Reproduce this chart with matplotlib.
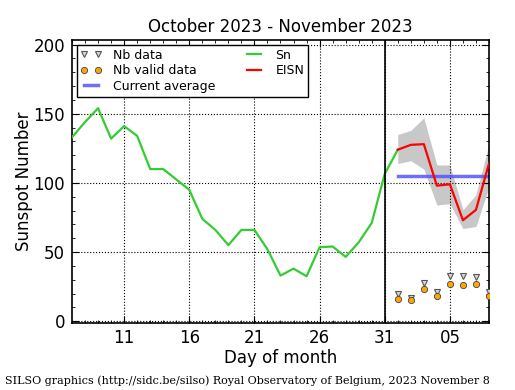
import matplotlib
matplotlib.use("Agg")
import matplotlib.pyplot as plt
from matplotlib.ticker import MultipleLocator, FixedLocator

# Days counted from October 1 (32 = Nov 1)
sn_days = list(range(7, 33))
sn_vals = [133, 144, 154, 132, 141, 134, 110, 110, 102.5, 95, 74, 66, 55, 66, 66,
           52, 33, 38, 32.5, 53.5, 54, 46.5, 57, 71, 106.5, 124]

eisn_days = [32, 33, 34, 35, 36, 37, 38, 39]
eisn_vals = [124, 127.5, 128, 98, 99, 73, 80.5, 114]
eisn_hi = [135, 138, 147, 113, 113, 80.5, 91.5, 128]
eisn_lo = [114, 116, 110, 84, 85, 67, 68.5, 97]

nb_data = [20, 17, 27.5, 21, 32.5, 32.5, 32, 21]
nb_valid = [16, 15, 23, 18, 27, 26, 27, 18.5]

avg_days = [32, 39]
avg_vals = [105, 105]

tick_days = [11, 16, 21, 26, 31, 36]
tick_labels = ["11", "16", "21", "26", "31", "05"]

plt.rcParams['font.family'] = ['DejaVu Sans']

fig = plt.figure(figsize=(5.15, 3.9), dpi=100)
ax = fig.add_axes([0.1398, 0.1718, 0.8097, 0.7256])

ax.fill_between(eisn_days, eisn_lo, eisn_hi, color='#c8c8c8', linewidth=0, zorder=1)
ax.plot(avg_days, avg_vals, color='#5555ff', alpha=0.85, linewidth=2.5, zorder=2,
        label='Current average')
ax.plot(sn_days, sn_vals, color='#33cc33', linewidth=1.6, zorder=3, label='Sn')
ax.plot(eisn_days, eisn_vals, color='#ff0000', linewidth=1.6, zorder=4, label='EISN')
ax.plot(eisn_days, nb_data, linestyle='none', marker='v', markersize=4.5,
        markerfacecolor='#d8d8d8', markeredgecolor='#555555', markeredgewidth=0.8,
        zorder=5, label='Nb data')
ax.plot(eisn_days, nb_valid, linestyle='none', marker='o', markersize=4.5,
        markerfacecolor='#ffa500', markeredgecolor='#444444', markeredgewidth=0.6,
        zorder=6, label='Nb valid data')
ax.axvline(31, color='black', linewidth=1.2, zorder=4)

ax.set_xlim(7, 39)
ax.set_ylim(-1.3, 203.3)
ax.xaxis.set_major_locator(FixedLocator(tick_days))
ax.set_xticklabels(tick_labels)
ax.xaxis.set_minor_locator(MultipleLocator(1))
ax.yaxis.set_major_locator(MultipleLocator(50))
ax.yaxis.set_minor_locator(MultipleLocator(10))
ax.tick_params(which='both', direction='in', top=True, right=True, labelsize=12)
ax.tick_params(which='major', length=5, width=0.8)
ax.tick_params(axis='x', which='major', pad=4)
ax.tick_params(axis='y', which='major', pad=5)
ax.tick_params(which='minor', length=2.5, width=0.6)
ax.grid(True, which='major', linestyle=':', color='black', linewidth=0.8)
for s in ax.spines.values():
    s.set_linewidth(1.2)

ax.set_title('October 2023 - November 2023', fontsize=12)
ax.set_xlabel('Day of month', fontsize=12, labelpad=2)
ax.set_ylabel('Sunspot Number', fontsize=12, labelpad=0)

h, l = ax.get_legend_handles_labels()
order = ['Nb data', 'Nb valid data', 'Current average', 'Sn', 'EISN']
hd = dict(zip(l, h))
leg = ax.legend([hd[k] for k in order], order, loc='upper left', ncol=2,
                numpoints=2, fontsize=9, fancybox=False, framealpha=1,
                edgecolor='black', borderaxespad=0.4, handlelength=1.7,
                handletextpad=0.9, columnspacing=2.2, labelspacing=0.2,
                borderpad=0.3)
leg.get_frame().set_linewidth(1.0)

fig.text(0.01, 0.01, 'SILSO graphics (http://sidc.be/silso) Royal Observatory of Belgium, 2023 November 8',
         family='DejaVu Serif', fontsize=8, ha='left', va='bottom')

fig.savefig('out.png', dpi=100)
